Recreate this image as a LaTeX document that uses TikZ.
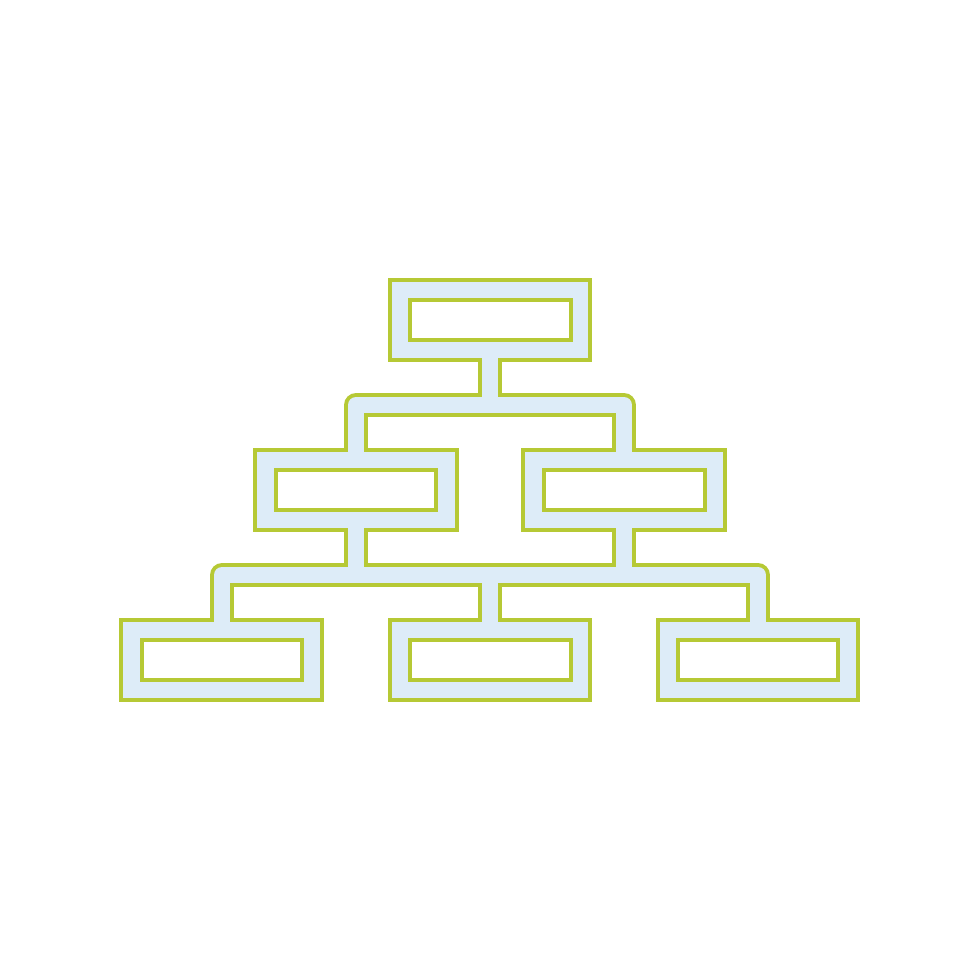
\documentclass[tikz,border=0pt]{standalone}
\definecolor{lgreen}{HTML}{B6C935}
\definecolor{lblue}{HTML}{DDECF8}
\begin{document}
\begin{tikzpicture}[x=0.01cm,y=-0.01cm,
  conngreen/.style={draw=lgreen,line width=0.24cm,line join=round,line cap=butt},
  connblue/.style={draw=lblue,line width=0.16cm,line join=round,line cap=butt},
  boxshape/.style={fill=lblue,draw=lgreen,line width=0.042cm},
  holeshape/.style={fill=white,draw=lgreen,line width=0.042cm}]
\useasboundingbox (0,0) rectangle (980,980);
% connector coordinates
\coordinate (t0) at (490,350);
\coordinate (t1) at (490,405);
\coordinate (bl1) at (356,460);
\coordinate (bl1c) at (356,405);
\coordinate (br1c) at (624,405);
\coordinate (br1) at (624,460);
\coordinate (m0) at (356,520);
\coordinate (m1) at (356,575);
\coordinate (n0) at (624,520);
\coordinate (n1) at (624,575);
\coordinate (c0) at (490,575);
\coordinate (c1) at (490,630);
\coordinate (l2c) at (222,575);
\coordinate (l2) at (222,630);
\coordinate (r2c) at (758,575);
\coordinate (r2) at (758,630);
% green connector layer
\foreach \s in {conngreen}{
  \draw[\s] (t0) -- (t1);
  \draw[\s] (bl1) -- (bl1c) -- (br1c) -- (br1);
  \draw[\s] (m0) -- (m1);
  \draw[\s] (n0) -- (n1);
  \draw[\s] (c1) -- (c0);
  \draw[\s] (l2) -- (l2c) -- (r2c) -- (r2);
}
% boxes
\draw[boxshape] (390,280) rectangle (590,360);
\draw[boxshape] (255,450) rectangle (457,530);
\draw[boxshape] (523,450) rectangle (725,530);
\draw[boxshape] (121,620) rectangle (322,700);
\draw[boxshape] (390,620) rectangle (590,700);
\draw[boxshape] (658,620) rectangle (858,700);
% blue connector layer
\foreach \s in {connblue}{
  \draw[\s] (t0) -- (t1);
  \draw[\s] (bl1) -- (bl1c) -- (br1c) -- (br1);
  \draw[\s] (m0) -- (m1);
  \draw[\s] (n0) -- (n1);
  \draw[\s] (c1) -- (c0);
  \draw[\s] (l2) -- (l2c) -- (r2c) -- (r2);
}
% holes
\draw[holeshape] (410,300) rectangle (571,340);
\draw[holeshape] (276,470) rectangle (436,510);
\draw[holeshape] (544,470) rectangle (705,510);
\draw[holeshape] (142,640) rectangle (302,680);
\draw[holeshape] (410,640) rectangle (571,680);
\draw[holeshape] (678,640) rectangle (838,680);
\end{tikzpicture}
\end{document}
